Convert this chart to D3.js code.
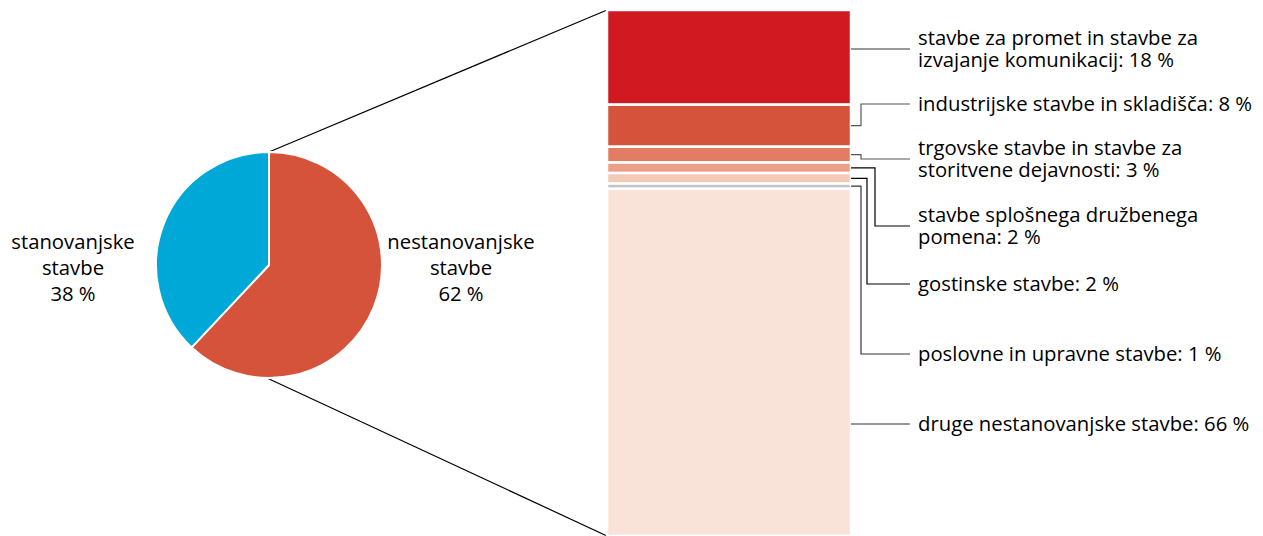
<!DOCTYPE html>
<html>
<head>
<meta charset="utf-8" />
<script src="https://d3js.org/d3.v7.min.js"></script>
<style>
  body { margin: 0; background: #fff; }
  svg text { font-family: "Open Sans", sans-serif; font-size: 20.3px; fill: #000; }
</style>
</head>
<body>
<svg width="1263" height="536"></svg>
<script>
  // pie data (outer split)
  var pieLabels = [["nestanovanjske", "stavbe", "62 %"], ["stanovanjske", "stavbe", "38 %"]];
  var pieValues = [62, 38];
  var pieColors = ["#d6533b", "#00a8d8"];

  // breakdown of nestanovanjske stavbe, top to bottom
  var barLabels = [
    ["stavbe za promet in stavbe za", "izvajanje komunikacij: 18 %"],
    ["industrijske stavbe in skladišča: 8 %"],
    ["trgovske stavbe in stavbe za", "storitvene dejavnosti: 3 %"],
    ["stavbe splošnega družbenega", "pomena: 2 %"],
    ["gostinske stavbe: 2 %"],
    ["poslovne in upravne stavbe: 1 %"],
    ["druge nestanovanjske stavbe: 66 %"]
  ];
  var barValues = [18, 8, 3, 2, 2, 1, 66];
  var barColors = ["#d01920", "#d6533b", "#e27c62", "#eba087", "#f3c9b8", "#c4c4c4", "#f9e3d9"];

  // label layout
  var labelY = [49, 104, 159, 226, 284, 354, 424];
  var elbowX = [null, 861, 861, 875, 867, 861, null];
  var lineColor = ["#333", "#555", "#555", "#000", "#000", "#333", "#333"];

  var svg = d3.select("svg");
  var cx = 269, cy = 265, r = 113;
  var barX0 = 607, barX1 = 851;

  var y = d3.scaleLinear().domain([0, 100]).range([10, 536]);

  // connector lines pie -> bar
  svg.append("line").attr("x1", cx).attr("y1", cy - r).attr("x2", barX0).attr("y2", y(0))
    .attr("stroke", "#000").attr("stroke-width", 1.2);
  svg.append("line").attr("x1", cx - 2).attr("y1", cy + r).attr("x2", barX0).attr("y2", y(100))
    .attr("stroke", "#000").attr("stroke-width", 1.2);

  // pie
  var pie = d3.pie().sort(null);
  var arc = d3.arc().innerRadius(0).outerRadius(r);
  var g = svg.append("g").attr("transform", "translate(" + cx + "," + cy + ")");
  g.selectAll("path").data(pie(pieValues)).enter().append("path")
    .attr("d", arc)
    .attr("fill", function (d, i) { return pieColors[i]; })
    .attr("stroke", "#fff").attr("stroke-width", 2);

  var pieLabelX = [461, 73];
  pieLabels.forEach(function (lines, i) {
    var t = svg.append("text").attr("text-anchor", "middle");
    lines.forEach(function (s, j) {
      t.append("tspan").attr("x", pieLabelX[i]).attr("y", 249 + j * 26).text(s);
    });
  });

  // stacked bar
  var stacked = [];
  var acc = 0;
  barValues.forEach(function (v) { stacked.push([acc, acc + v]); acc += v; });

  svg.selectAll("rect.seg").data(stacked).enter().append("rect")
    .attr("class", "seg")
    .attr("x", barX0).attr("width", barX1 - barX0)
    .attr("y", function (d) { return y(d[0]); })
    .attr("height", function (d) { return y(d[1]) - y(d[0]); })
    .attr("fill", function (d, i) { return barColors[i]; })
    .attr("stroke", "#fff").attr("stroke-width", 2.5);

  // leader lines and labels
  stacked.forEach(function (d, i) {
    var ym = (y(d[0]) + y(d[1])) / 2;
    if (i === 6) ym = labelY[i];
    var pts;
    if (elbowX[i] === null) {
      pts = [[barX1, labelY[i]], [910, labelY[i]]];
    } else {
      pts = [[barX1, ym], [elbowX[i], ym], [elbowX[i], labelY[i]], [910, labelY[i]]];
    }
    svg.append("path").attr("d", d3.line()(pts))
      .attr("fill", "none").attr("stroke", lineColor[i]).attr("stroke-width", 1.2);

    var lines = barLabels[i];
    var t = svg.append("text");
    var top = labelY[i] - (lines.length - 1) * 11 + 7;
    lines.forEach(function (s, j) {
      t.append("tspan").attr("x", 918).attr("y", top + j * 22).text(s);
    });
  });
</script>
</body>
</html>
